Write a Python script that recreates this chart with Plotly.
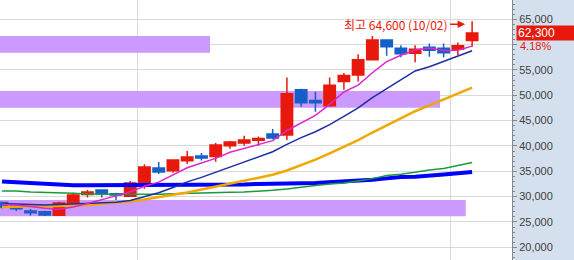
import plotly.graph_objects as go

# ---------------- data ----------------
idx = list(range(34))
opens = [28850, 28350, 27150, 27000, 26300, 28750, 30400, 31300, 30550, 30050,
         32100, 35650, 35100, 37100, 38000, 37900, 40050, 40600, 41100, 42350,
         42150, 51100, 48950, 47950, 52700, 54000, 57000, 60900, 59300, 58300,
         59500, 59300, 59100, 60800]
highs = [29050, 28450, 27550, 27200, 29000, 30750, 31300, 31400, 30750, 33100,
         36400, 36850, 37300, 39000, 38600, 40600, 41000, 42000, 41850, 43350,
         53500, 51300, 50700, 53500, 54400, 58100, 61700, 61000, 59900, 59900,
         60200, 60200, 60400, 64600]
lows = [27700, 27150, 26250, 26150, 26150, 28550, 29800, 29800, 29350, 29900,
        31550, 34450, 34700, 36450, 37150, 36900, 39450, 40050, 40050, 41300,
        41150, 47750, 46750, 47750, 51100, 52700, 57000, 57800, 57500, 56500,
        57600, 57500, 57900, 59600]
closes = [27950, 27600, 26800, 26350, 28750, 30300, 30900, 30500, 30300, 32700,
          35850, 34850, 37250, 37800, 37600, 40200, 40800, 41150, 41450, 41550,
          50300, 48550, 48550, 52000, 53900, 57000, 60900, 59600, 58200, 59100,
          58900, 58400, 59800, 62300]

ma5 = [28500, 28350, 28050, 27700, 27500, 27950, 28650, 29350, 30150, 30950,
       32050, 32850, 34200, 35700, 36650, 37550, 38750, 39500, 40250, 41050,
       43050, 44600, 46050, 48200, 50650, 52000, 54450, 56650, 57900, 58950,
       59350, 58850, 58900, 59700]
ma10 = [28650, 28600, 28500, 28350, 28450, 28550, 28650, 28750, 28900, 29250,
        30000, 30750, 31800, 32900, 33800, 34800, 35800, 36850, 37950, 38850,
        40300, 41650, 42800, 44200, 45850, 47500, 49550, 51350, 53050, 54800,
        55650, 56650, 57800, 58800]
ma20 = [27950, 28000, 28000, 28050, 28150, 28200, 28350, 28550, 28750, 29050,
        29450, 29850, 30350, 30800, 31400, 32000, 32600, 33150, 33750, 34300,
        35150, 36200, 37300, 38550, 39800, 41150, 42650, 44100, 45500, 46850,
        48000, 49150, 50300, 51500]
ma60 = [31100, 31100, 30900, 30850, 30700, 30650, 30500, 30500, 30450, 30400,
        30400, 30450, 30550, 30650, 30700, 30800, 30850, 30900, 31050, 31250,
        31500, 31900, 32200, 32500, 32700, 33100, 33550, 34150, 34400, 34800,
        35250, 35550, 36150, 36750]
ma120 = [33000, 32850, 32600, 32450, 32350, 32250, 32250, 32250, 32250, 32250,
         32250, 32250, 32250, 32250, 32250, 32250, 32300, 32400, 32500, 32500,
         32550, 32650, 32700, 32850, 32900, 33100, 33350, 33600, 33850, 33900,
         34050, 34350, 34600, 34850]

# price zones (horizontal bars)
band_low = [58400, 47550, 26100]
band_high = [61700, 50850, 29350]
band_end = [14.6, 30.75, 32.55]

month_breaks = [9.5, 31.5]
y_ticks = [20000, 25000, 30000, 35000, 40000, 45000, 50000, 55000, 60000, 65000]
# 60,000 label is hidden behind the current-price box / change label in the reference
y_tick_text = ["20,000", "25,000", "30,000", "35,000", "40,000", "45,000",
               "50,000", "55,000", "", "65,000"]

max_label = "최고 64,600 (10/02)"
last_price_label = "62,300"
change_label = "4.18%"

RED = "#e8190c"
BLUE = "#1560c8"

# ---------------- figure ----------------
fig = go.Figure()

fig.add_trace(go.Candlestick(
    x=idx, open=opens, high=highs, low=lows, close=closes,
    increasing=dict(line=dict(color=RED, width=1.5), fillcolor=RED),
    decreasing=dict(line=dict(color=BLUE, width=1.5), fillcolor=BLUE),
    whiskerwidth=0, hoverinfo="skip", showlegend=False,
))

for vals, col, w in [(ma120, "#0000ff", 4), (ma60, "#1a9a3c", 1.5),
                     (ma20, "#f0a800", 2.5), (ma10, "#1c2ea0", 1.5),
                     (ma5, "#dc28c8", 1.5)]:
    fig.add_trace(go.Scatter(x=idx, y=vals, mode="lines",
                             line=dict(color=col, width=w),
                             hoverinfo="skip", showlegend=False))

shapes = []
for lo, hi, end in zip(band_low, band_high, band_end):
    shapes.append(dict(type="rect", xref="x", yref="y", x0=-1, x1=end,
                       y0=lo, y1=hi, fillcolor="#cc99ff", line=dict(width=0),
                       layer="between"))

annotations = [
    dict(x=idx[-1], y=highs[-1], xref="x", yref="y", text=max_label,
         showarrow=True, arrowhead=2, arrowsize=1, arrowwidth=1.5,
         arrowcolor=RED, ax=-22, ay=0, standoff=7, yshift=-3,
         xanchor="right", yanchor="middle",
         font=dict(family="Noto Sans CJK KR", size=12, color=RED)),
    dict(x=1, y=closes[-1], xref="paper", yref="y", text=last_price_label,
         showarrow=False, xanchor="left", yanchor="middle", xshift=4,
         bgcolor=RED, width=56, height=12, borderpad=1, align="left",
         font=dict(family="Liberation Sans", size=12, color="white")),
    dict(x=1, y=closes[-1], xref="paper", yref="y", text=change_label,
         showarrow=False, xanchor="left", yanchor="middle", xshift=6, yshift=-13,
         font=dict(family="Liberation Sans", size=11, color=RED)),
]

fig.update_layout(
    width=574, height=260,
    margin=dict(l=0, r=62, t=0, b=0),
    paper_bgcolor="#d5e0ee", plot_bgcolor="white",
    boxgap=0.2, boxgroupgap=0,
    shapes=shapes, annotations=annotations,
    showlegend=False,
    xaxis=dict(range=[-0.14, 35.8], tickvals=month_breaks, showticklabels=False,
               ticks="", showgrid=True, gridcolor="#d9d9d9", gridwidth=1,
               zeroline=False, showline=False, rangeslider=dict(visible=False),
               fixedrange=True),
    yaxis=dict(range=[17486, 68810], side="right", tickvals=y_ticks,
               ticktext=y_tick_text, ticks="outside", ticklen=4,
               tickcolor="#888888",
               showline=True, linecolor="#888888", linewidth=1,
               showgrid=True, gridcolor="#d9d9d9", gridwidth=1, zeroline=False,
               minor=dict(dtick=1000, tick0=0, ticks="outside", ticklen=2,
                          tickcolor="#888888", showgrid=False),
               tickfont=dict(family="Liberation Sans", size=11, color="#404040"),
               fixedrange=True),
)

fig.write_html("out.html")
